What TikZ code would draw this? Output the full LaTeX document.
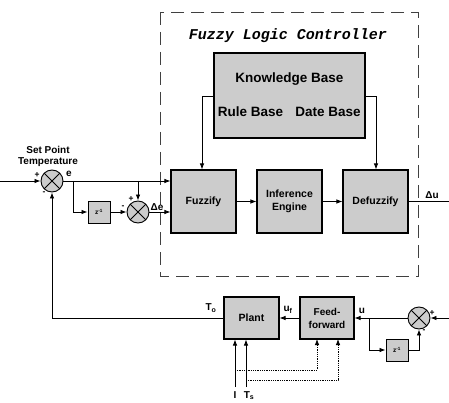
\documentclass[tikz,border=0pt]{standalone}
\usepackage{fontspec}
\setmainfont{Liberation Sans}
\newfontfamily\cour{Liberation Mono}
\usetikzlibrary{arrows.meta}
\begin{document}
\begin{tikzpicture}[x=1pt,y=-1pt,
  blk/.style={draw=black,line width=1.1pt,fill=black!20,font=\bfseries\fontsize{10.5}{13}\selectfont,align=center,inner sep=0pt},
  junc/.style={circle,draw=black,line width=0.9pt,fill=black!20,minimum size=22pt,inner sep=0pt,
    path picture={\draw[line width=0.8pt] (path picture bounding box.north west) -- (path picture bounding box.south east)
      (path picture bounding box.north east) -- (path picture bounding box.south west);}},
  zb/.style={draw=black,line width=0.9pt,fill=black!20,minimum width=22pt,minimum height=22pt,inner sep=0pt,font=\bfseries\fontsize{6.5}{7}\selectfont},
  arr/.style={line width=0.8pt,-{Latex[length=6pt,width=4.5pt]}},
  ln/.style={line width=0.8pt},
  lab/.style={font=\bfseries\fontsize{10}{12}\selectfont,inner sep=0pt},
  sg/.style={font=\bfseries\fontsize{8.5}{8.5}\selectfont,inner sep=0pt},
]
\useasboundingbox (0,0) rectangle (449,403);
% dashed controller frame
\draw[line width=0.9pt,black!75,dash pattern=on 13pt off 7pt] (160,12) rectangle (418,276);
\node[font=\cour\bfseries\itshape\fontsize{15}{15}\selectfont,inner sep=0pt] (title) at (288,36) {Fuzzy Logic Controller};
% blocks
\node[blk,minimum width=151pt,minimum height=85pt] (kb) at (289.5,95.5) {};
\node[font=\bfseries\fontsize{13.5}{15}\selectfont,inner sep=0pt] (kbt) at (289.5,79) {Knowledge Base};
\node[font=\bfseries\fontsize{13.5}{15}\selectfont,inner sep=0pt] (rb) at (250.5,112) {Rule Base};
\node[font=\bfseries\fontsize{13.5}{15}\selectfont,inner sep=0pt] (db) at (328,112) {Date Base};
\node[blk,minimum width=65pt,minimum height=63pt] (fz) at (203.5,201.5) {Fuzzify};
\node[blk,minimum width=65pt,minimum height=63pt] (inf) at (289.5,201.5) {Inference\\Engine};
\node[blk,minimum width=65pt,minimum height=63pt] (dfz) at (375.5,201.5) {Defuzzify};
\node[blk,minimum width=55pt,minimum height=42pt] (pl) at (251.5,318) {Plant};
\node[blk,minimum width=54pt,minimum height=42pt,font=\bfseries\fontsize{10}{13}\selectfont] (ff) at (327,318) {Feed-\\forward};
\node[zb] (z1) at (99,212) {z\textsuperscript{-1}};
\node[zb] (z2) at (397,350) {z\textsuperscript{-1}};
\node[junc] (j1) at (52,181) {};
\node[junc] (j2) at (138,212) {};
\node[junc] (j3) at (419,318) {};
% coordinates
\coordinate (in1) at (0,181);
\coordinate (b1) at (73,181);
\coordinate (b2) at (138,181);
\coordinate (fb) at (52,318);
\coordinate (out) at (449,201.5);
\coordinate (in3) at (449,318);
\coordinate (b3) at (369,318);
\coordinate (iI) at (235,387);
\coordinate (iT) at (246,387);
\coordinate (dI) at (235,370);
\coordinate (dT) at (246,380);
\coordinate (kl) at (202,96);
\coordinate (kr) at (376,96);
% connectors
\draw[arr] (in1) -- (j1.west);
\draw[arr] (j1.east) -- (j1.east -| fz.west);
\draw[arr] (b1) |- (z1.west);
\draw[arr] (z1.east) -- (j2.west);
\draw[arr] (b2) -- (j2.north);
\draw[arr] (j2.east) -- (j2.east -| fz.west);
\draw[arr] (fz.east) -- (inf.west);
\draw[arr] (inf.east) -- (dfz.west);
\draw[ln] (dfz.east) -- (out);
\draw[arr] (kb.west |- kl) -- (kl) -- (kl |- fz.north);
\draw[arr] (kb.east |- kr) -- (kr) -- (kr |- dfz.north);
\draw[arr] (pl.west) -- (fb) -- (j1.south);
\draw[arr] (in3) -- (j3.east);
\draw[arr] (j3.west) -- (ff.east);
\draw[arr] (b3) |- (z2.west);
\draw[arr] (z2.east) -| (j3.south);
\draw[arr] (ff.west) -- (pl.east);
\draw[arr] (iI) -- (iI |- pl.south);
\draw[arr] (iT) -- (iT |- pl.south);
\draw[arr,densely dotted] (dI) -| (317,339);
\draw[arr,densely dotted] (dT) -| (338,339);
% labels
\node[lab,align=center] (sp) at (48,156) {Set Point\\[-1pt]Temperature};
\node[sg] (p1) at (37,175) {+};
\node[sg] (m1) at (44,193) {-};
\node[lab] (le) at (69,174) {e};
\node[sg] (p2) at (131,199) {+};
\node[sg] (m2) at (123,207) {-};
\node[lab] (lde) at (157,207) {Δe};
\node[lab] (ldu) at (432,195) {Δu};
\node[lab] (lto) at (211,308) {T\textsubscript{o}};
\node[lab] (luf) at (288,310) {u\textsubscript{f}};
\node[lab] (lu) at (362,311) {u};
\node[sg] (p3) at (432,313) {+};
\node[sg] (m3) at (424,331) {-};
\node[lab,anchor=base] (lI) at (235,398) {I};
\node[lab,anchor=base] (lT) at (249,398) {T\textsubscript{s}};
\end{tikzpicture}
\end{document}
